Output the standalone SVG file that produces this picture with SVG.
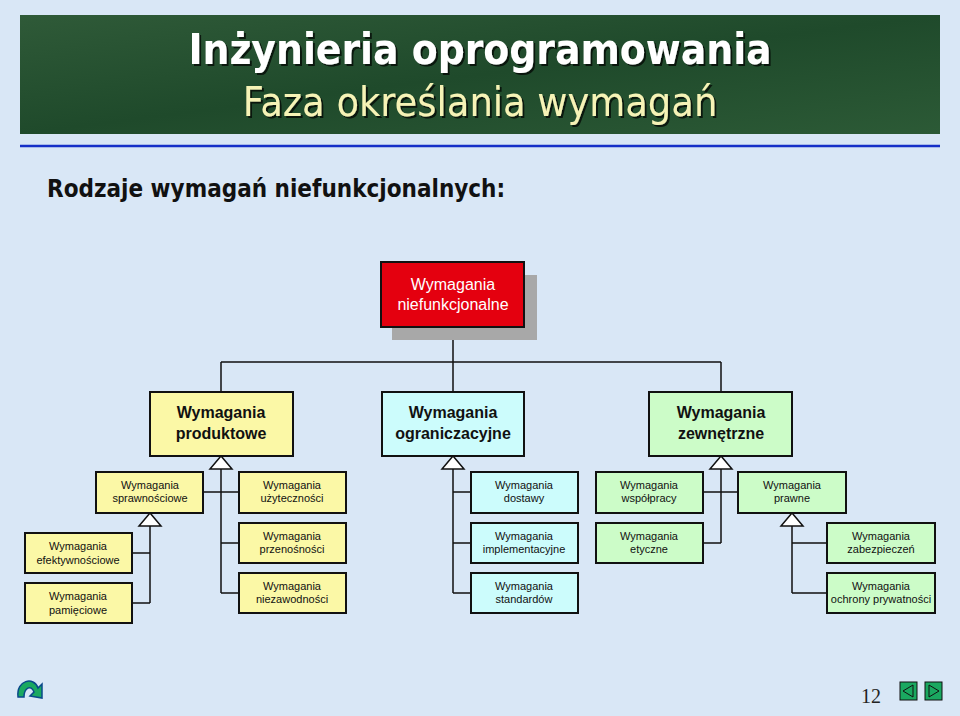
<svg xmlns="http://www.w3.org/2000/svg" width="960" height="716" viewBox="0 0 960 716">
<defs>
<style>
.b{stroke:#111;stroke-width:2}
.y{fill:#fbf8a6}.c{fill:#ccfcfc}.g{fill:#ccfcc8}
.L{font-family:"Liberation Sans",Arial,sans-serif;font-size:16px;text-anchor:middle;fill:#111}
.s{font-family:"Liberation Sans",Arial,sans-serif;font-size:11px;text-anchor:middle;fill:#111}
.ln{stroke:#111;stroke-width:1.5;fill:none}
.tri{fill:#fff;stroke:#111;stroke-width:1.5}
</style>
<linearGradient id="hdr" x1="0" y1="0" x2="1" y2="1">
<stop offset="0" stop-color="#2f5a38"/><stop offset="0.5" stop-color="#1f4a2b"/><stop offset="1" stop-color="#2c5a36"/>
</linearGradient>
<filter id="sh" x="-5%" y="-20%" width="110%" height="140%"><feDropShadow dx="2" dy="2" stdDeviation="0.5" flood-color="#000" flood-opacity="0.7"/></filter>
</defs>
<rect width="960" height="716" fill="#d9e7f6"/>
<rect x="20" y="15" width="920" height="119" fill="url(#hdr)"/>
<g font-family="'DejaVu Sans Condensed','DejaVu Sans',sans-serif" text-anchor="middle" filter="url(#sh)">
<text x="480" y="64" font-size="42" font-weight="bold" fill="#fff">Inżynieria oprogramowania</text>
<text x="480" y="116" font-size="41" fill="#f6f3b6">Faza określania wymagań</text>
</g>
<line x1="20" y1="146" x2="940" y2="146" stroke="#1630c8" stroke-width="2.5"/>
<text x="47" y="197" font-family="'DejaVu Sans Condensed','DejaVu Sans',sans-serif" font-size="24" font-weight="bold" fill="#111">Rodzaje wymagań niefunkcjonalnych:</text>

<g id="connectors">
<path class="ln" d="M453 339V362M221 362H721M221 362V392M453 362V392M721 362V392"/>
<path class="ln" d="M221 469V593M203 492H239M221 543H239M221 593H239"/>
<path class="ln" d="M150 526V603M132 553H150M132 603H150"/>
<path class="ln" d="M453 469V593M453 492H471M453 543H471M453 593H471"/>
<path class="ln" d="M721 469V543M703 492H738M703 543H721"/>
<path class="ln" d="M792 526V593M792 543H827M792 593H827"/>
<polygon class="tri" points="453,327 442,339 464,339"/>
<polygon class="tri" points="221,456 210,469 232,469"/>
<polygon class="tri" points="453,456 442,469 464,469"/>
<polygon class="tri" points="721,456 710,469 732,469"/>
<polygon class="tri" points="150,513 139,526 161,526"/>
<polygon class="tri" points="792,513 781,526 803,526"/>
</g>

<g id="root"><rect x="392" y="275" width="145" height="65" fill="#a8a8a8"/><rect x="381" y="262" width="143" height="65" fill="#e4000f" class="b"/>
<text class="L" x="453" y="290" style="fill:#fff">Wymagania</text><text class="L" x="453" y="310" style="fill:#fff">niefunkcjonalne</text></g>

<g id="prod"><rect x="150" y="392" width="143" height="64" class="b y"/><text class="L" x="221" y="418" font-weight="bold">Wymagania</text><text class="L" x="221" y="439" font-weight="bold">produktowe</text></g>
<g id="org"><rect x="382" y="392" width="142" height="64" class="b c"/><text class="L" x="453" y="418" font-weight="bold">Wymagania</text><text class="L" x="453" y="439" font-weight="bold">ograniczacyjne</text></g>
<g id="zew"><rect x="649" y="392" width="143" height="64" class="b g"/><text class="L" x="721" y="418" font-weight="bold">Wymagania</text><text class="L" x="721" y="439" font-weight="bold">zewnętrzne</text></g>

<g id="spr"><rect x="96" y="472" width="107" height="41" class="b y"/><text class="s" x="150" y="489">Wymagania</text><text class="s" x="150" y="502">sprawnościowe</text></g>
<g id="uzy"><rect x="239" y="472" width="107" height="41" class="b y"/><text class="s" x="292" y="489">Wymagania</text><text class="s" x="292" y="502">użyteczności</text></g>
<g id="prz"><rect x="239" y="523" width="107" height="40" class="b y"/><text class="s" x="292" y="540">Wymagania</text><text class="s" x="292" y="553">przenośności</text></g>
<g id="nie"><rect x="239" y="573" width="107" height="40" class="b y"/><text class="s" x="292" y="590">Wymagania</text><text class="s" x="292" y="603">niezawodności</text></g>
<g id="efe"><rect x="25" y="533" width="107" height="40" class="b y"/><text class="s" x="78" y="550">Wymagania</text><text class="s" x="78" y="564">efektywnościowe</text></g>
<g id="pam"><rect x="25" y="583" width="107" height="40" class="b y"/><text class="s" x="78" y="600">Wymagania</text><text class="s" x="78" y="614">pamięciowe</text></g>

<g id="dos"><rect x="471" y="472" width="107" height="41" class="b c"/><text class="s" x="524" y="489">Wymagania</text><text class="s" x="524" y="502">dostawy</text></g>
<g id="imp"><rect x="471" y="523" width="107" height="40" class="b c"/><text class="s" x="524" y="540">Wymagania</text><text class="s" x="524" y="553">implementacyjne</text></g>
<g id="sta"><rect x="471" y="573" width="107" height="40" class="b c"/><text class="s" x="524" y="590">Wymagania</text><text class="s" x="524" y="603">standardów</text></g>

<g id="wsp"><rect x="596" y="472" width="107" height="41" class="b g"/><text class="s" x="649" y="489">Wymagania</text><text class="s" x="649" y="502">współpracy</text></g>
<g id="ety"><rect x="596" y="523" width="107" height="40" class="b g"/><text class="s" x="649" y="540">Wymagania</text><text class="s" x="649" y="553">etyczne</text></g>
<g id="pra"><rect x="738" y="472" width="108" height="41" class="b g"/><text class="s" x="792" y="489">Wymagania</text><text class="s" x="792" y="502">prawne</text></g>
<g id="zab"><rect x="827" y="523" width="108" height="40" class="b g"/><text class="s" x="881" y="540">Wymagania</text><text class="s" x="881" y="553">zabezpieczeń</text></g>
<g id="och"><rect x="827" y="573" width="108" height="40" class="b g"/><text class="s" x="881" y="590">Wymagania</text><text class="s" x="881" y="603">ochrony prywatności</text></g>

<g id="footer">
<text x="861" y="703" font-family="'Liberation Serif',serif" font-size="20" fill="#222">12</text>
<rect x="900" y="682" width="17" height="18" fill="#1aa860" stroke="#111"/><polygon points="913,685 903,691 913,697" fill="none" stroke="#111"/>
<rect x="925" y="682" width="17" height="18" fill="#1aa860" stroke="#111"/><polygon points="929,685 939,691 929,697" fill="none" stroke="#111"/>
<path d="M18 697 C16 680 34 676 38 688 L42 684 L42 698 L30 696 L34 692 C31 684 24 688 24 697 Z" fill="#1aa860" stroke="#0a4a8a" stroke-width="1.5"/>
</g>
</svg>
